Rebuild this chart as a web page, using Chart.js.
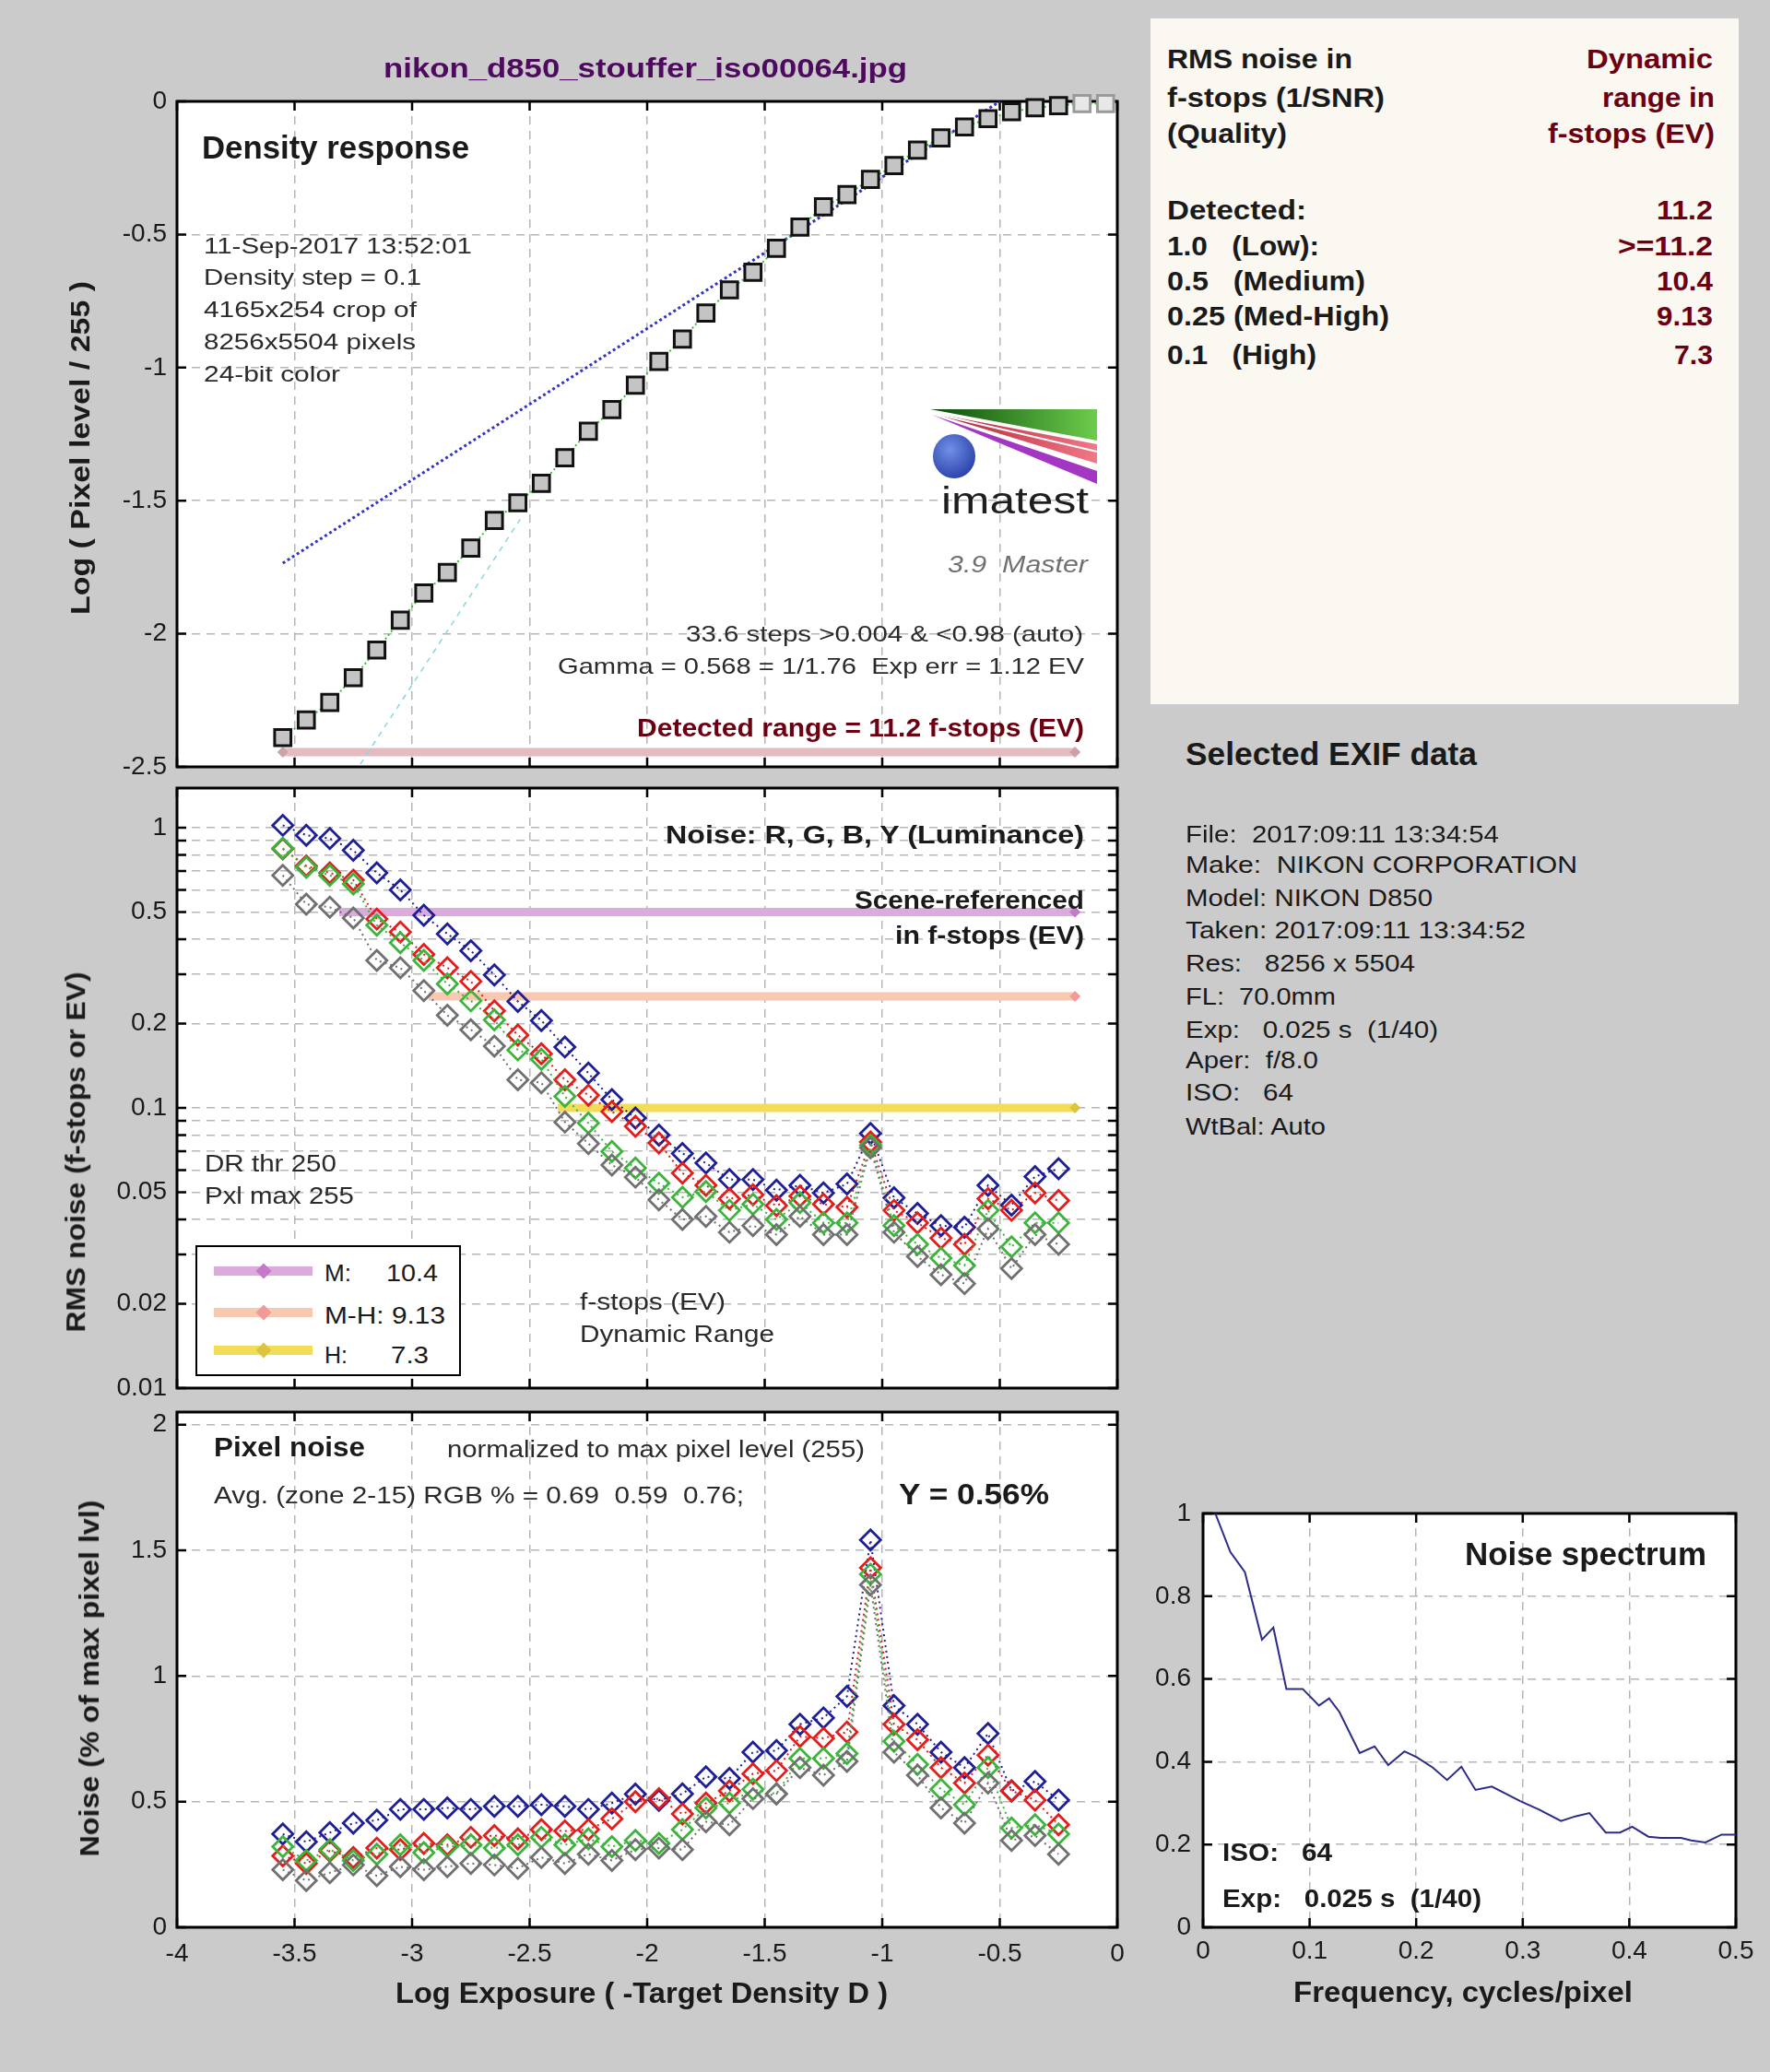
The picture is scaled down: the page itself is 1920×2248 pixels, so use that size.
<!DOCTYPE html>
<html><head><meta charset="utf-8"><title>Imatest stepchart</title>
<script src="https://cdn.jsdelivr.net/npm/chart.js@4.4.1/dist/chart.umd.min.js"></script>
<style>
html,body{margin:0;padding:0}
body{position:relative;width:1920px;height:2248px;background:#cbcbcb;overflow:hidden;font-family:"Liberation Sans",Arial,Helvetica,sans-serif}
canvas{position:absolute;display:block}
.t{position:absolute;white-space:pre;line-height:1;margin:0}
#box{position:absolute;left:1248px;top:20px;width:638px;height:744px;background:#fbf7f1}
#legend{position:absolute;left:212px;top:1351px;width:288px;height:142px;box-sizing:border-box;background:#fff;border:2px solid #000}
</style></head>
<body>
<div id="box"></div>
<canvas id="cDensity" width="1240" height="850" style="left:0;top:0"></canvas>
<canvas id="cNoise" width="1240" height="670" style="left:0;top:850px"></canvas>
<canvas id="cPixel" width="1240" height="728" style="left:0;top:1520px"></canvas>
<canvas id="cSpec" width="720" height="648" style="left:1200px;top:1600px"></canvas>
<div id="legend"></div>
<svg style="position:absolute;left:1000px;top:435px" width="200" height="140" viewBox="0 0 200 140">
<defs>
<linearGradient id="gG" x1="0" y1="0" x2="1" y2="0"><stop offset="0" stop-color="#0a4a0a"/><stop offset="1" stop-color="#6ccc4c"/></linearGradient>
<linearGradient id="gR" x1="0" y1="0" x2="1" y2="0"><stop offset="0" stop-color="#b02030"/><stop offset="1" stop-color="#f07888"/></linearGradient>
<radialGradient id="gB" cx="0.4" cy="0.35" r="0.7"><stop offset="0" stop-color="#7090e8"/><stop offset="1" stop-color="#2a40a8"/></radialGradient>
</defs>
<polygon points="9,9 190,9 190,43" fill="url(#gG)"/>
<polygon points="11,13 190,47 190,68" fill="url(#gR)"/>
<line x1="11" y1="13" x2="190" y2="55" stroke="#ffffff" stroke-width="2"/>
<polygon points="11,15 190,76 190,90" fill="#a436c4"/>
<ellipse cx="35" cy="60" rx="23" ry="24" fill="url(#gB)"/>
<text x="21" y="122" font-family="Liberation Sans, Arial, sans-serif" font-size="40" fill="#1e1e1e" textLength="160" lengthAdjust="spacingAndGlyphs">imatest</text>
</svg>
<script>
// ================= DATA =================
const densityX = [-3.55,-3.45,-3.35,-3.25,-3.15,-3.05,-2.95,-2.85,-2.75,-2.65,-2.55,-2.45,-2.35,-2.25,-2.15,-2.05,-1.95,-1.85,-1.75,-1.65,-1.55,-1.45,-1.35,-1.25,-1.15,-1.05,-0.95,-0.85,-0.75,-0.65,-0.55,-0.45,-0.35,-0.25,-0.15,-0.05];
const logPixel = [-2.390,-2.324,-2.258,-2.165,-2.061,-1.949,-1.847,-1.770,-1.678,-1.574,-1.508,-1.435,-1.339,-1.239,-1.158,-1.066,-0.977,-0.893,-0.795,-0.708,-0.642,-0.552,-0.472,-0.396,-0.350,-0.293,-0.241,-0.183,-0.137,-0.096,-0.065,-0.039,-0.024,-0.016,-0.008,-0.008];
const gammaFitX = [-3.55,-0.50];
const gammaFitY = [-1.735,0.0];
const slopeX = [-3.22,-2.54];
const slopeY = [-2.49,-1.57];
const rangeX = [-3.55,-0.18];
const rangeY = [-2.445,-2.445];

const noiseX = [-3.55,-3.45,-3.35,-3.25,-3.15,-3.05,-2.95,-2.85,-2.75,-2.65,-2.55,-2.45,-2.35,-2.25,-2.15,-2.05,-1.95,-1.85,-1.75,-1.65,-1.55,-1.45,-1.35,-1.25,-1.15,-1.05,-0.95,-0.85,-0.75,-0.65,-0.55,-0.45,-0.35,-0.25];
const evR = [0.84,0.73,0.69,0.65,0.472,0.424,0.353,0.316,0.283,0.222,0.182,0.156,0.126,0.111,0.097,0.086,0.075,0.0585,0.0529,0.0474,0.0490,0.0448,0.0484,0.0453,0.0442,0.0755,0.0431,0.0389,0.0343,0.0326,0.0474,0.0431,0.0497,0.0467];
const evG = [0.845,0.722,0.676,0.630,0.449,0.389,0.336,0.277,0.241,0.206,0.161,0.149,0.110,0.0882,0.0699,0.0610,0.0538,0.0480,0.0503,0.0431,0.0453,0.0400,0.0459,0.0389,0.0389,0.0736,0.0380,0.0326,0.0291,0.0274,0.0431,0.0319,0.0389,0.0389];
const evB = [1.02,0.94,0.915,0.83,0.69,0.60,0.487,0.418,0.364,0.298,0.240,0.205,0.165,0.133,0.107,0.092,0.080,0.0687,0.0636,0.0555,0.0555,0.0509,0.0529,0.0497,0.0535,0.0811,0.0478,0.0420,0.0380,0.0375,0.0529,0.0450,0.0569,0.0607];
const evY = [0.676,0.533,0.520,0.476,0.336,0.316,0.262,0.214,0.190,0.166,0.126,0.123,0.089,0.0746,0.0625,0.0566,0.047,0.040,0.0410,0.0360,0.0380,0.0353,0.0410,0.0353,0.0353,0.072,0.0360,0.0295,0.0254,0.0236,0.0370,0.0267,0.0353,0.0326];

const thrLabels = ['M:','M-H:','H:'];
const thrDR = ['10.4','9.13','7.3'];
const thrNoise = [0.5,0.25,0.1];
const thrStartX = [-3.31,-2.93,-2.38];
const thrEndX = [-0.18,-0.18,-0.18];

const pctR = [0.284,0.254,0.303,0.278,0.315,0.309,0.334,0.328,0.358,0.365,0.352,0.389,0.383,0.389,0.432,0.500,0.512,0.451,0.494,0.543,0.611,0.623,0.759,0.752,0.777,1.430,0.808,0.746,0.635,0.574,0.685,0.543,0.506,0.408];
const pctG = [0.321,0.266,0.309,0.266,0.291,0.328,0.297,0.321,0.328,0.315,0.328,0.358,0.328,0.352,0.321,0.346,0.334,0.389,0.475,0.494,0.549,0.531,0.672,0.672,0.691,1.405,0.740,0.648,0.549,0.488,0.635,0.395,0.408,0.371];
const pctB = [0.371,0.340,0.377,0.414,0.426,0.469,0.469,0.475,0.469,0.481,0.481,0.488,0.481,0.469,0.494,0.530,0.505,0.531,0.599,0.592,0.697,0.703,0.808,0.833,0.919,1.541,0.882,0.808,0.697,0.635,0.771,0.543,0.580,0.506];
const pctY = [0.229,0.186,0.217,0.248,0.205,0.241,0.229,0.241,0.254,0.248,0.235,0.278,0.254,0.291,0.266,0.309,0.315,0.309,0.420,0.408,0.512,0.531,0.635,0.605,0.660,1.362,0.697,0.605,0.475,0.414,0.574,0.346,0.365,0.291];

const specF = [0.0115,0.0256,0.0393,0.042,0.0553,0.066,0.0782,0.0935,0.1088,0.1183,0.128,0.147,0.161,0.1737,0.189,0.2004,0.2156,0.229,0.2424,0.2557,0.271,0.2977,0.315,0.3359,0.3492,0.3626,0.3779,0.3912,0.4027,0.4179,0.4294,0.4485,0.458,0.4714,0.4866,0.5];
const specV = [1.0,0.907,0.858,0.83,0.695,0.724,0.576,0.576,0.536,0.553,0.52,0.421,0.437,0.392,0.425,0.411,0.386,0.356,0.388,0.332,0.34,0.305,0.285,0.257,0.268,0.276,0.229,0.229,0.243,0.219,0.216,0.216,0.21,0.205,0.224,0.224];

const xTicksExposure = [-4,-3.5,-3,-2.5,-2,-1.5,-1,-0.5,0];
const yTicksDensity = [-2.5,-2,-1.5,-1,-0.5,0];
const yTicksLog = [0.01,0.02,0.03,0.04,0.05,0.06,0.07,0.08,0.09,0.1,0.2,0.3,0.4,0.5,0.6,0.7,0.8,0.9,1];
const yLabelsLog = [0.01,0.02,0.05,0.1,0.2,0.5,1];
const yTicksPixel = [0,0.5,1,1.5,2];
const xTicksSpec = [0,0.1,0.2,0.3,0.4,0.5];
const yTicksSpec = [0,0.2,0.4,0.6,0.8,1];

// ================= HELPERS =================
const FONT = '"Liberation Sans", Arial, Helvetica, sans-serif';
Chart.defaults.font.family = FONT;
Chart.defaults.color = '#1a1a1a';
const GRID = '#b6b6b6';
const pts = (xs, ys) => xs.map((x, i) => ({x, y: ys[i]}));
const fmt = v => String(Math.round(v * 1000) / 1000);

function axis(o) {
  return {
    type: o.type || 'linear', min: o.min, max: o.max,
    afterBuildTicks: s => { s.ticks = o.ticks.map(v => ({value: v})); },
    afterFit: s => {
      if (o.isX) s.height = o.fit; else s.width = o.fit;
      s.paddingTop = 0; s.paddingBottom = 0; s.paddingLeft = 0; s.paddingRight = 0;
    },
    grid: {color: GRID, lineWidth: 1.5, drawTicks: false},
    border: {display: false, dash: [9, 7]},
    ticks: {display: o.show !== false, autoSkip: false, maxRotation: 0, minRotation: 0,
      padding: o.pad || 11, color: '#1a1a1a', font: {size: 28, family: FONT},
      callback: v => (o.labels ? (o.labels.includes(v) ? fmt(v) : '') : fmt(v))}
  };
}

const framePlugin = {
  id: 'frame',
  beforeDraw(chart) {
    const {ctx, chartArea: a} = chart;
    ctx.save(); ctx.fillStyle = '#ffffff';
    ctx.fillRect(a.left, a.top, a.right - a.left, a.bottom - a.top);
    ctx.restore();
  },
  beforeDatasetsDraw(chart) {
    const {ctx, chartArea: a} = chart;
    const xs = chart.scales.x, ys = chart.scales.y, L = 10;
    ctx.save();
    ctx.strokeStyle = '#000'; ctx.lineWidth = 2.5; ctx.setLineDash([]);
    ctx.beginPath();
    xs.ticks.forEach(t => { const p = xs.getPixelForValue(t.value);
      ctx.moveTo(p, a.top); ctx.lineTo(p, a.top + L); ctx.moveTo(p, a.bottom); ctx.lineTo(p, a.bottom - L); });
    ys.ticks.forEach(t => { const p = ys.getPixelForValue(t.value);
      ctx.moveTo(a.left, p); ctx.lineTo(a.left + L, p); ctx.moveTo(a.right, p); ctx.lineTo(a.right - L, p); });
    ctx.stroke();
    ctx.lineWidth = 3;
    ctx.strokeRect(a.left, a.top, a.right - a.left, a.bottom - a.top);
    ctx.restore();
  }
};

const base = (padding) => ({
  responsive: false, maintainAspectRatio: false, animation: false, events: [], devicePixelRatio: 1,
  layout: {padding, autoPadding: false},
  plugins: {legend: {display: false}, tooltip: {enabled: false}}
});

const COL = {R: '#e41c1c', G: '#3cb43c', B: '#1e1e96', Y: '#707070'};
function diamondDS(label, ys, color, order) {
  return {label, data: pts(noiseX, ys), showLine: true, borderColor: color, borderWidth: 2,
    borderDash: [2, 4], pointStyle: 'rectRot', pointRadius: 11, pointBorderWidth: 2.8,
    pointBorderColor: color, pointBackgroundColor: 'rgba(0,0,0,0)', order, clip: false};
}

// ================= CHART 1: density response =================
new Chart(document.getElementById('cDensity'), {
  type: 'scatter',
  data: {datasets: [
    {label: 'Density response', data: pts(densityX, logPixel), showLine: true,
     borderColor: '#3cc03c', borderWidth: 2, borderDash: [2, 3],
     pointStyle: 'rect', pointRadius: 12.5, pointBorderWidth: 3,
     pointBackgroundColor: c => c.dataIndex >= 34 ? '#e8e8e8' : '#c4c4c4',
     pointBorderColor: c => c.dataIndex >= 34 ? '#9a9a9a' : '#111111',
     order: 0, clip: false},
    {label: 'Gamma fit', data: pts(gammaFitX, gammaFitY), showLine: true, borderColor: '#3434c4',
     borderWidth: 3, borderDash: [3, 3], pointRadius: 0, order: 1},
    {label: 'Slope', data: pts(slopeX, slopeY), showLine: true, borderColor: '#88d8dc',
     borderWidth: 1.5, borderDash: [6, 6], pointRadius: 0, order: 2},
    {label: 'Detected range', data: pts(rangeX, rangeY), showLine: true, borderColor: '#e4bcc0',
     borderWidth: 9, pointStyle: 'rectRot', pointRadius: 6, pointBorderWidth: 0,
     pointBackgroundColor: '#d0a0a8', order: 3, clip: false}
  ]},
  options: Object.assign(base({top: 110, right: 28, bottom: 18, left: 0}), {
    scales: {
      x: axis({min: -4, max: 0, ticks: xTicksExposure, show: false, isX: true, fit: 0}),
      y: axis({min: -2.5, max: 0, ticks: yTicksDensity, fit: 192})
    }
  }),
  plugins: [framePlugin]
});

// ================= CHART 2: noise in f-stops =================
const THR_COL = ['#dcaadc', '#f8c8b0', '#f2dc58'];
const THR_MARK = ['#c47ac8', '#f09a9a', '#dcc440'];
const thrDS = thrLabels.map((lab, i) => ({
  label: lab + ' ' + thrDR[i], data: pts([thrStartX[i], thrEndX[i]], [thrNoise[i], thrNoise[i]]),
  showLine: true, borderColor: THR_COL[i], borderWidth: 9, pointStyle: 'rectRot',
  pointRadius: [0, 6], pointBorderWidth: 0, pointBackgroundColor: THR_MARK[i], order: 10 + i, clip: false
}));
const noiseChart = new Chart(document.getElementById('cNoise'), {
  type: 'scatter',
  data: {datasets: [
    diamondDS('Y', evY, COL.Y, 0), diamondDS('G', evG, COL.G, 1),
    diamondDS('R', evR, COL.R, 2), diamondDS('B', evB, COL.B, 3)
  ].concat(thrDS)},
  options: Object.assign(base({top: 5, right: 28, bottom: 14, left: 0}), {
    scales: {
      x: axis({min: -4, max: 0, ticks: xTicksExposure, show: false, isX: true, fit: 0}),
      y: axis({type: 'logarithmic', min: 0.01, max: 1.385, ticks: yTicksLog, labels: yLabelsLog, fit: 192})
    }
  }),
  plugins: [framePlugin]
});

// ================= CHART 3: pixel noise =================
new Chart(document.getElementById('cPixel'), {
  type: 'scatter',
  data: {datasets: [
    diamondDS('Y', pctY, COL.Y, 0), diamondDS('G', pctG, COL.G, 1),
    diamondDS('R', pctR, COL.R, 2), diamondDS('B', pctB, COL.B, 3)
  ]},
  options: Object.assign(base({top: 12, right: 28, bottom: 0, left: 0}), {
    scales: {
      x: axis({min: -4, max: 0, ticks: xTicksExposure, isX: true, fit: 157, pad: 12}),
      y: axis({min: 0, max: 2.05, ticks: yTicksPixel, fit: 192})
    }
  }),
  plugins: [framePlugin]
});

// ================= CHART 4: noise spectrum =================
new Chart(document.getElementById('cSpec'), {
  type: 'scatter',
  data: {datasets: [
    {label: 'Noise spectrum', data: pts(specF, specV), showLine: true, borderColor: '#2c2c88',
     borderWidth: 2, pointRadius: 0}
  ]},
  options: Object.assign(base({top: 42, right: 37, bottom: 0, left: 0}), {
    scales: {
      x: axis({min: 0, max: 0.5, ticks: xTicksSpec, isX: true, fit: 157, pad: 9}),
      y: axis({min: 0, max: 1, ticks: yTicksSpec, fit: 105, pad: 13})
    }
  }),
  plugins: [framePlugin]
});

// ================= TEXT OVERLAYS =================
function mk(txt, o) {
  const e = document.createElement('div');
  e.className = 't'; e.textContent = txt;
  e.style.fontSize = o.s + 'px';
  e.style.fontWeight = o.b ? 'bold' : 'normal';
  if (o.i) e.style.fontStyle = 'italic';
  e.style.color = o.c || '#1a1a1a';
  document.body.appendChild(e);
  return e;
}
function T(txt, x, y, o) {
  const e = mk(txt, o);
  const nat = e.getBoundingClientRect().width;
  const k = o.w ? o.w / nat : 1;
  let left = x;
  if (o.a === 'r') left = x - nat * k; else if (o.a === 'c') left = x - nat * k / 2;
  e.style.left = left + 'px';
  e.style.top = (y - 0.4885 * o.s) + 'px';
  e.style.transformOrigin = '0 0';
  if (Math.abs(k - 1) > 0.001) e.style.transform = 'scaleX(' + k + ')';
}
function R(txt, cx, cy, o) {
  const e = mk(txt, o);
  const r = e.getBoundingClientRect();
  const k = o.w ? o.w / r.width : 1;
  e.style.left = (cx - r.width / 2) + 'px';
  e.style.top = (cy - r.height / 2) + 'px';
  e.style.transformOrigin = '50% 50%';
  e.style.transform = 'rotate(-90deg) scaleX(' + k + ')';
}
const DK = '#1a1a1a', MID = '#2a2a2a', RED = '#6a0012';

// title
T('nikon_d850_stouffer_iso00064.jpg', 700, 74, {s: 30, b: 1, c: '#4e0a5e', a: 'c', w: 568});

// density panel
T('Density response', 219, 159, {s: 35, b: 1, w: 290});
T('11-Sep-2017 13:52:01', 221, 267, {s: 24, c: MID, w: 291});
T('Density step = 0.1', 221, 301, {s: 24, c: MID, w: 236});
T('4165x254 crop of', 221, 336, {s: 24, c: MID, w: 231});
T('8256x5504 pixels', 221, 371, {s: 24, c: MID, w: 230});
T('24-bit color', 221, 406, {s: 24, c: MID, w: 148});
T('3.9  Master', 1180, 612, {s: 25, i: 1, c: '#707070', a: 'r', w: 152});
T('33.6 steps >0.004 & <0.98 (auto)', 1175, 688, {s: 24, c: MID, a: 'r', w: 431});
T('Gamma = 0.568 = 1/1.76  Exp err = 1.12 EV', 1176, 723, {s: 24, c: MID, a: 'r', w: 571});
T('Detected range = 11.2 f-stops (EV)', 1176, 790, {s: 28, b: 1, c: RED, a: 'r', w: 485});

// noise panel
T('Noise: R, G, B, Y (Luminance)', 1176, 906, {s: 28, b: 1, a: 'r', w: 454});
T('Scene-referenced', 1176, 977, {s: 28, b: 1, a: 'r', w: 249});
T('in f-stops (EV)', 1176, 1015, {s: 28, b: 1, a: 'r', w: 205});
T('DR thr 250', 222, 1262, {s: 25, c: MID, w: 143});
T('Pxl max 255', 222, 1297, {s: 25, c: MID, w: 162});
T('f-stops (EV)', 629, 1412, {s: 25, c: MID, w: 158});
T('Dynamic Range', 629, 1447, {s: 25, c: MID, w: 211});

// legend (built from threshold datasets)
const legY = [1379, 1424, 1465];
const legTxtY = [1381, 1427, 1470];
const legW = [[29, 56], [131, 0], [25, 41]];
noiseChart.data.datasets.filter(d => d.order >= 10).forEach((d, i) => {
  const bar = document.createElement('div');
  bar.style.cssText = `position:absolute;left:232px;top:${legY[i] - 5}px;width:107px;height:10px;background:${d.borderColor}`;
  document.body.appendChild(bar);
  const dm = document.createElement('div');
  dm.style.cssText = `position:absolute;left:${286 - 6}px;top:${legY[i] - 6}px;width:12px;height:12px;background:${d.pointBackgroundColor};transform:rotate(45deg)`;
  document.body.appendChild(dm);
  if (i === 1) {
    T(thrLabels[i] + ' ' + thrDR[i], 352, legTxtY[i], {s: 25, c: DK, w: legW[i][0]});
  } else {
    T(thrLabels[i], 352, legTxtY[i], {s: 25, c: DK, w: legW[i][0]});
    T(thrDR[i], i === 0 ? 419 : 424, legTxtY[i], {s: 25, c: DK, w: legW[i][1]});
  }
});

// pixel noise panel
T('Pixel noise', 232, 1570, {s: 29, b: 1, w: 164});
T('normalized to max pixel level (255)', 485, 1572, {s: 25, c: MID, w: 453});
T('Avg. (zone 2-15) RGB % = 0.69  0.59  0.76;', 232, 1622, {s: 25, c: MID, w: 575});
T('Y = 0.56%', 975, 1621, {s: 31, b: 1, w: 163});

// axis titles
T('Log Exposure ( -Target Density D )', 696, 2162, {s: 31, b: 1, a: 'c', w: 534});
R('Log ( Pixel level / 255 )', 87, 486, {s: 30, b: 1, w: 362});
R('RMS noise (f-stops or EV)', 82, 1250, {s: 30, b: 1, w: 391});
R('Noise (% of max pixel lvl)', 97, 1821, {s: 30, b: 1, w: 387});

// right info box
T('RMS noise in', 1266, 64, {s: 30, b: 1, w: 201});
T('f-stops (1/SNR)', 1266, 106, {s: 30, b: 1, w: 236});
T('(Quality)', 1266, 145, {s: 30, b: 1, w: 130});
T('Dynamic', 1858, 64, {s: 30, b: 1, c: RED, a: 'r', w: 137});
T('range in', 1860, 106, {s: 30, b: 1, c: RED, a: 'r', w: 122});
T('f-stops (EV)', 1860, 145, {s: 30, b: 1, c: RED, a: 'r', w: 181});
T('Detected:', 1266, 228, {s: 30, b: 1, w: 151});
T('11.2', 1858, 228, {s: 30, b: 1, c: RED, a: 'r', w: 61});
T('1.0   (Low):', 1266, 267, {s: 30, b: 1, w: 165});
T('>=11.2', 1858, 267, {s: 30, b: 1, c: RED, a: 'r', w: 103});
T('0.5   (Medium)', 1266, 305, {s: 30, b: 1, w: 215});
T('10.4', 1858, 305, {s: 30, b: 1, c: RED, a: 'r', w: 61});
T('0.25 (Med-High)', 1266, 343, {s: 30, b: 1, w: 241});
T('9.13', 1858, 343, {s: 30, b: 1, c: RED, a: 'r', w: 61});
T('0.1   (High)', 1266, 385, {s: 30, b: 1, w: 162});
T('7.3', 1858, 385, {s: 30, b: 1, c: RED, a: 'r', w: 42});

// EXIF
T('Selected EXIF data', 1286, 817, {s: 35, b: 1, w: 316});
T('File:  2017:09:11 13:34:54', 1286, 905, {s: 25, c: DK, w: 340});
T('Make:  NIKON CORPORATION', 1286, 938, {s: 25, c: DK, w: 425});
T('Model: NIKON D850', 1286, 974, {s: 25, c: DK, w: 268});
T('Taken: 2017:09:11 13:34:52', 1286, 1009, {s: 25, c: DK, w: 369});
T('Res:   8256 x 5504', 1286, 1045, {s: 25, c: DK, w: 249});
T('FL:  70.0mm', 1286, 1081, {s: 25, c: DK, w: 163});
T('Exp:   0.025 s  (1/40)', 1286, 1117, {s: 25, c: DK, w: 274});
T('Aper:  f/8.0', 1286, 1150, {s: 25, c: DK, w: 144});
T('ISO:   64', 1286, 1185, {s: 25, c: DK, w: 117});
T('WtBal: Auto', 1286, 1222, {s: 25, c: DK, w: 152});

// spectrum
T('Noise spectrum', 1851, 1685, {s: 35, b: 1, a: 'r', w: 262});
T('ISO:   64', 1326, 2010, {s: 28, b: 1, w: 119});
T('Exp:   0.025 s  (1/40)', 1326, 2060, {s: 28, b: 1, w: 281});
T('Frequency, cycles/pixel', 1587, 2161, {s: 31, b: 1, a: 'c', w: 368});
</script>
</body></html>
